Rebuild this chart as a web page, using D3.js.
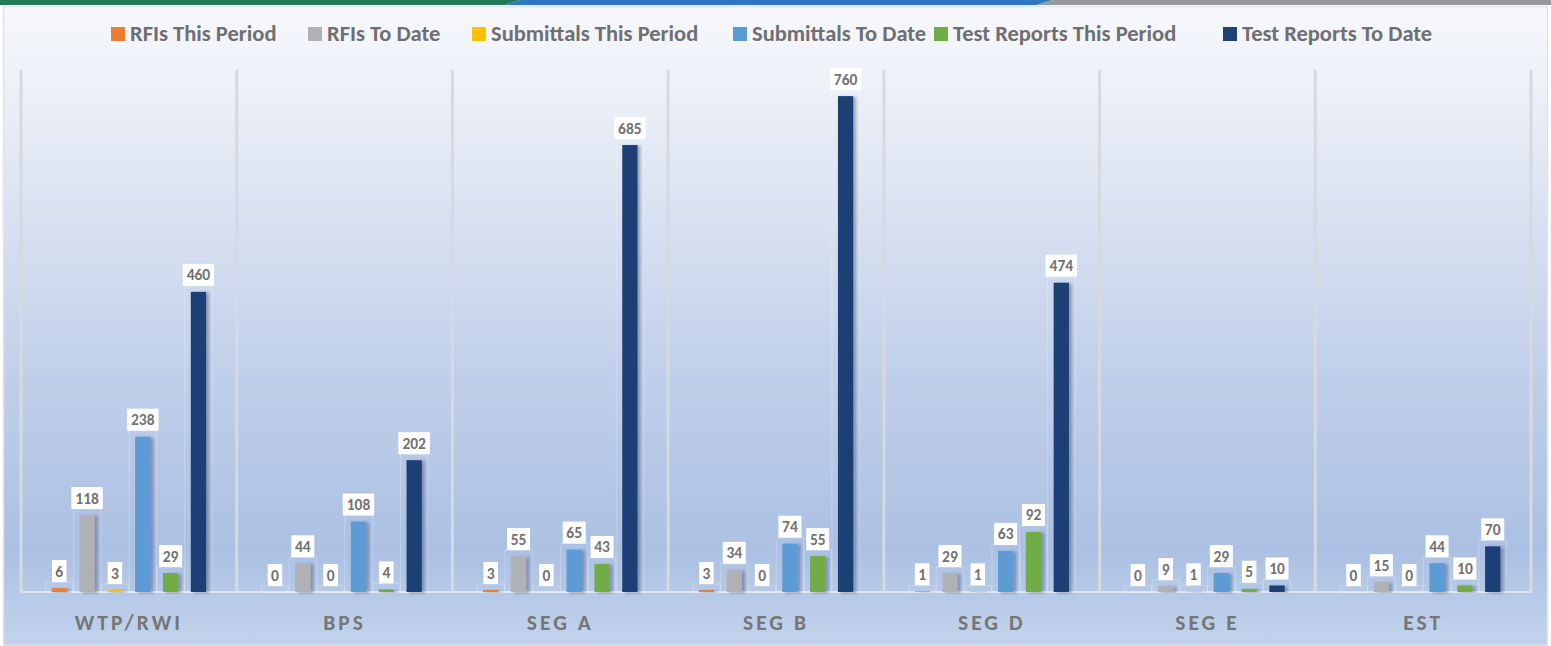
<!DOCTYPE html>
<html>
<head>
<meta charset="utf-8">
<script src="https://cdn.jsdelivr.net/npm/d3@7"></script>
<style>
  html, body { margin: 0; padding: 0; background: #fff; }
  svg { display: block; font-family: Carlito, Calibri, "Open Sans", sans-serif; }
</style>
</head>
<body>
<svg id="chart" width="1551" height="646"></svg>
<script>
(function() {

// chart data
const categories = ["WTP/RWI", "BPS", "SEG A", "SEG B", "SEG D", "SEG E", "EST"];
const seriesNames = ["RFIs This Period", "RFIs To Date", "Submittals This Period",
                     "Submittals To Date", "Test Reports This Period", "Test Reports To Date"];
const seriesColors = ["#ed7d31", "#b0b1b4", "#ffc000", "#5b9bd5", "#70ad47", "#1f4176"];
const rfisThisPeriod       = [6, 0, 3, 3, 1, 0, 0];
const rfisToDate           = [118, 44, 55, 34, 29, 9, 15];
const submittalsThisPeriod = [3, 0, 0, 0, 1, 1, 0];
const submittalsToDate     = [238, 108, 65, 74, 63, 29, 44];
const testThisPeriod       = [29, 4, 43, 55, 92, 5, 10];
const testToDate           = [460, 202, 685, 760, 474, 10, 70];
const seriesValues = [rfisThisPeriod, rfisToDate, submittalsThisPeriod,
                      submittalsToDate, testThisPeriod, testToDate];

const svg = d3.select("#chart"),
    plot = { left: 21, right: 1531, top: 70, bottom: 592 };

const defs = svg.append("defs");

// panel background gradient
const bg = defs.append("linearGradient")
    .attr("id", "bg").attr("x1", 0).attr("y1", 0).attr("x2", 0).attr("y2", 1);
bg.append("stop").attr("offset", "0%").attr("stop-color", "#f7f8fb");
bg.append("stop").attr("offset", "12%").attr("stop-color", "#edf1f8");
bg.append("stop").attr("offset", "55%").attr("stop-color", "#c3d1ea");
bg.append("stop").attr("offset", "85%").attr("stop-color", "#abc0e3");
bg.append("stop").attr("offset", "100%").attr("stop-color", "#c3d3ec");

// soft shadow on bars
const shadow = defs.append("filter").attr("id", "shadow")
    .attr("x", "-30%").attr("y", "-10%").attr("width", "180%").attr("height", "120%");
shadow.append("feDropShadow")
    .attr("dx", 3).attr("dy", 1).attr("stdDeviation", 1.6)
    .attr("flood-color", "#1a2a4a").attr("flood-opacity", 0.35);

// top coloured strips
svg.append("path").attr("d", "M0,0 H520 L505,5 H0 Z").attr("fill", "#23795a");
svg.append("path").attr("d", "M520,0 H1052 L1037,5 H505 Z").attr("fill", "#2d78c0");
svg.append("path").attr("d", "M1052,0 H1551 V5 H1037 Z").attr("fill", "#96979b");

// panel
svg.append("rect")
    .attr("x", 3.5).attr("y", 6.5).attr("width", 1544).attr("height", 639)
    .attr("fill", "url(#bg)").attr("stroke", "#dfe3ea").attr("stroke-width", 1.5);

// scales
const x0 = d3.scaleBand()
    .domain(categories)
    .range([plot.left, plot.right])
    .paddingInner(0).paddingOuter(0);

const x1 = d3.scaleBand()
    .domain(d3.range(seriesNames.length))
    .range([0, x0.bandwidth()])
    .paddingInner(0.45).paddingOuter(1.1);

const y = d3.scaleLinear()
    .domain([0, 800])
    .range([plot.bottom, plot.top]);

// category separators
svg.append("g")
    .selectAll("line")
    .data(d3.range(categories.length + 1))
    .enter().append("line")
    .attr("x1", (d) => plot.left + d * x0.bandwidth())
    .attr("x2", (d) => plot.left + d * x0.bandwidth())
    .attr("y1", plot.top)
    .attr("y2", plot.bottom)
    .attr("stroke", "#d6d9de")
    .attr("stroke-width", 3);

// baseline
svg.append("line")
    .attr("x1", plot.left).attr("x2", plot.right)
    .attr("y1", plot.bottom).attr("y2", plot.bottom)
    .attr("stroke", "#dde3ee").attr("stroke-width", 2);

// flatten to one record per bar
const bars = [];
categories.forEach((c, ci) => {
    seriesValues.forEach((vals, si) => {
        bars.push({ cat: c, s: si, value: vals[ci] });
    });
});

const groups = svg.append("g")
    .selectAll("g")
    .data(bars)
    .enter().append("g")
    .attr("transform", (d) => "translate(" + (x0(d.cat) + x1(d.s)) + ",0)");

// faint frame around bar + label, like the original's label leader box
groups.append("rect")
    .attr("x", -6)
    .attr("y", (d) => y(d.value) - 6)
    .attr("width", x1.bandwidth() + 12)
    .attr("height", (d) => plot.bottom - y(d.value) + 6)
    .attr("fill", "none")
    .attr("stroke", "#ffffff")
    .attr("stroke-opacity", 0.25);

groups.append("rect")
    .attr("x", 0)
    .attr("y", (d) => y(d.value))
    .attr("width", x1.bandwidth())
    .attr("height", (d) => plot.bottom - y(d.value))
    .attr("fill", (d) => seriesColors[d.s])
    .attr("filter", "url(#shadow)");

// data labels
const labelW = (d) => String(d.value).length * 8.5 + 6;
groups.append("rect")
    .attr("x", (d) => x1.bandwidth() / 2 - labelW(d) / 2)
    .attr("y", (d) => y(d.value) - 28)
    .attr("width", labelW)
    .attr("height", 22)
    .attr("fill", "#ffffff");

groups.append("text")
    .attr("x", x1.bandwidth() / 2)
    .attr("y", (d) => y(d.value) - 11.5)
    .attr("text-anchor", "middle")
    .attr("font-size", 15.5)
    .attr("font-weight", "bold")
    .attr("fill", "#727272")
    .text((d) => d.value);

// category axis labels
const xAxis = d3.axisBottom(x0).tickSize(0).tickPadding(0);
const axisG = svg.append("g")
    .attr("transform", "translate(0," + (plot.bottom + 38) + ")")
    .call(xAxis)
    .attr("font-family", null);
axisG.select(".domain").remove();
axisG.selectAll("text")
    .attr("font-size", 21.5)
    .attr("font-weight", "bold")
    .attr("fill", "#767676")
    .attr("letter-spacing", "3px")
    .attr("dy", 0);

// legend
const legendX = [111, 308, 472, 733, 934, 1223];
const legend = svg.append("g")
    .selectAll("g")
    .data(seriesNames)
    .enter().append("g")
    .attr("transform", (d, i) => "translate(" + legendX[i] + ",27)");
legend.append("rect")
    .attr("width", 14).attr("height", 14)
    .attr("fill", (d, i) => seriesColors[i]);
legend.append("text")
    .attr("x", 19).attr("y", 14)
    .attr("font-size", 22.5)
    .attr("font-weight", "bold")
    .attr("fill", "#6f6f73")
    .text((d) => d);

})();
</script>
</body>
</html>
